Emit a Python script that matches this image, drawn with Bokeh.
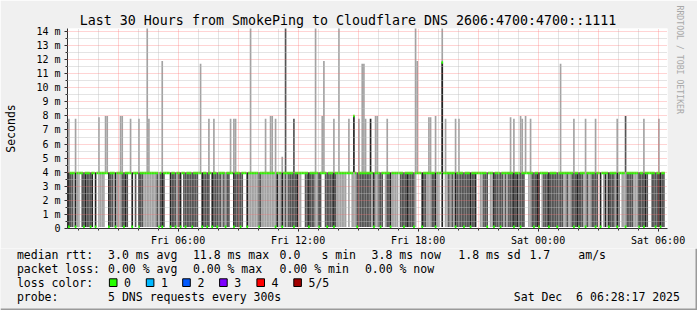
import numpy as np
from bokeh.plotting import figure
from bokeh.layouts import column
from bokeh.models import Range1d, FixedTicker, Grid, Title
from bokeh.core.properties import value
from bokeh.embed import file_html
from bokeh.resources import INLINE

# ---------------- data ----------------
title_text = "Last 30 Hours from SmokePing to Cloudflare DNS 2606:4700:4700::1111"
end_time_label = "Sat 06:28:17"
window_hours = 30

x_tick_labels = ["Fri 06:00", "Fri 12:00", "Fri 18:00", "Sat 00:00", "Sat 06:00"]
y_tick_values = list(range(15))
y_tick_labels = ["0"] + [f"{v} m" for v in range(1, 15)]

# smoke band between ~0.1 ms and ~4 ms, one char per 5-minute step,
# one row per hour, starting Fri 00:30.
# k = black, d = dark grey, l = light grey, w = no band; upper case = median low
band_start = "Fri 00:30"
band_rows = [
    "KddlKllwdDkd",
    "dDkwKwllllww",
    "KddlKllldDkd",
    "wwKwdwKddlll",
    "llllldLdKdww",
    "wKddDldKwdDd",
    "ddDdddwwKddD",
    "dwKddDddldLd",
    "dwwKdddDdwwK",
    "llllllDdllll",
    "llllLkllKldl",
    "dddDdkllwwdd",
    "KdddllKdwwdD",
    "dddKdllllllw",
    "lwlllDdddddd",
    "ddlKlldDdwld",
    "dKllllwddDdk",
    "dddDlwwwKddl",
    "llddKllwkwll",
    "dldlKddddDdd",
    "dKddkwwllddD",
    "wllKdddDdldl",
    "dddKdkdDddww",
    "lldDdkKwlddd",
    "KddddDdddlld",
    "lldDdkKddlLd",
    "llddDdwKwlkl",
    "KdddlKdwllLd",
    "dddlllKddDkd",
    "wwddDdkKdd",
]
band_low_ms = 0.10
band_high_ms = 4.0
median_high_ms = 3.95
median_low_ms = 0.12

spike_times = ["Fri 00:30", "Fri 00:50", "Fri 02:00", "Fri 02:20", "Fri 02:25", "Fri 03:05",
               "Fri 03:10", "Fri 03:35", "Fri 04:00", "Fri 04:25", "Fri 04:30", "Fri 05:10",
               "Fri 07:05", "Fri 07:30", "Fri 07:45", "Fri 08:35", "Fri 08:45", "Fri 08:50",
               "Fri 09:35", "Fri 10:20", "Fri 10:35", "Fri 10:40", "Fri 10:50", "Fri 11:10",
               "Fri 11:20", "Fri 11:45", "Fri 12:50", "Fri 13:10", "Fri 13:15", "Fri 13:45",
               "Fri 14:00", "Fri 14:30", "Fri 14:45", "Fri 15:00", "Fri 15:10", "Fri 15:15",
               "Fri 15:20", "Fri 15:35", "Fri 15:50", "Fri 15:55", "Fri 16:25", "Fri 17:50",
               "Fri 17:55", "Fri 18:30", "Fri 18:35", "Fri 18:50", "Fri 19:10", "Fri 19:10",
               "Fri 19:20", "Fri 19:50", "Fri 20:00", "Fri 22:35", "Fri 22:45", "Fri 23:05",
               "Fri 23:10", "Fri 23:20", "Fri 23:35", "Sat 01:05", "Sat 01:45", "Sat 02:20",
               "Sat 02:50", "Sat 03:55", "Sat 04:20", "Sat 05:15", "Sat 06:00"]
spike_values = [7.8, 7.8, 7.9, 8.0, 8.0, 8.0, 8.0, 7.8, 7.8, 14.5, 7.8, 11.9,
                11.7, 7.8, 7.8, 7.8, 7.8, 7.8, 14.5, 7.8, 8.0, 8.0, 7.8, 5.1,
                14.5, 7.8, 14.5, 8.0, 11.9, 7.8, 14.5, 7.8, 8.0, 7.8, 11.7, 11.7,
                7.8, 7.8, 8.0, 8.0, 7.8, 14.5, 11.9, 7.9, 7.9, 8.0, 14.5, 11.8,
                7.8, 7.8, 7.8, 7.9, 7.8, 8.0, 7.8, 8.0, 7.8, 11.7, 7.8, 7.8,
                7.8, 7.8, 8.0, 7.8, 7.8]
spike_shades = ("llllllllllllllllllllllll" + "dd" + "llllll" + "k" + "llll" + "k"
                + "lllllllll" + "k" + "llllllllllllll" + "d" + "ll")

median_override_times = ["Fri 14:45", "Fri 19:10"]
median_override_values = [8.0, 11.8]

rtt_parts = ["median rtt:", "3.0 ms avg", "11.8 ms max", "0.0", "s min", "3.8 ms now",
             "1.8 ms sd", "1.7", "am/s"]
loss_parts = ["packet loss:", "0.00 % avg", "0.00 % max", "0.00 % min", "0.00 % now"]
color_title = "loss color:"
loss_names = ["0", "1", "2", "3", "4", "5/5"]
loss_colors = ["#26ff00", "#00b8ff", "#0059ff", "#7e00ff", "#ff0000", "#a10000"]
probe_parts = ["probe:", "5 DNS requests every 300s", "Sat Dec \u00a06 06:28:17 2025"]
watermark = "RRDTOOL / TOBI OETIKER"

# ---------------- layout positions (pixels) ----------------
rtt_x = [16.4, 107.6, 192.4, 279.1, 320.9, 371.1, 457.8, 528.9, 577.8]
loss_x = [16.4, 107.6, 192.4, 279.1, 364.4]
box_x = [108.9, 145.8, 182.2, 219.1, 256.4, 293.3]
probe_x = [16.4, 107.6, 513.3]
line_y = [254.3, 268.2, 282.2, 296.0]

def hours(t):
    day, hm = t.split()
    parts = [int(s) for s in hm.split(":")]
    while len(parts) < 3:
        parts.append(0)
    return (0 if day == "Fri" else 24) + parts[0] + parts[1] / 60 + parts[2] / 3600

MONO = "DejaVu Sans Mono"
W = 697
H1, H2 = 248, 62
FL, FR, FT, FB = 67, 667, 28, 228
X1 = hours(end_time_label)
X0 = X1 - window_hours
YMAX = 14.21
BACK = "#f0f0f0"

shade = {"k": "#232323", "d": "#555555", "l": "#a3a3a3"}
step = 5 / 60

# ---------------- main chart ----------------
p = figure(width=W, height=H1, output_backend="svg", toolbar_location=None,
           x_range=Range1d(X0, X1), y_range=Range1d(0, YMAX),
           min_border_left=FL, min_border_right=W - FR,
           min_border_top=FT, min_border_bottom=H1 - FB)
p.frame_align = False
p.background_fill_color = "white"
p.border_fill_color = BACK
p.outline_line_color = None
p.grid.visible = False

codes = "".join(band_rows)
t0 = hours(band_start)
bl, br, bc = [], [], []
ml, mb, mt = [], [], []
ov = {round(hours(t) * 12): v for t, v in zip(median_override_times, median_override_values)}
for i, c in enumerate(codes):
    L = t0 + i * step
    if c.lower() != "w":
        bl.append(L); br.append(L + step); bc.append(shade[c.lower()])
    med = median_low_ms if c.isupper() else median_high_ms
    key = round(L * 12)
    if key in ov:
        med = ov[key]
    ml.append(L); mb.append(med - 0.09); mt.append(med + 0.09)

p.quad(left=bl, right=br, bottom=band_low_ms, top=band_high_ms, fill_color=bc,
       line_color=None)

st = [hours(t) for t in spike_times]
p.quad(left=st, right=[s + step for s in st], bottom=band_high_ms, top=spike_values,
       fill_color=[shade[c] for c in spike_shades], line_color=None)

p.quad(left=ml, right=[m + step for m in ml], bottom=mb, top=mt,
       fill_color=loss_colors[0], line_color=None)

# grids drawn over the smoke, as rrdtool does
hrs = [h for h in range(1, 31) if h % 3]
p.add_layout(Grid(dimension=0, ticker=FixedTicker(ticks=hrs), grid_line_color="#bbbbbb",
                  grid_line_alpha=0.8, grid_line_dash="1 1", level="guide"))
p.add_layout(Grid(dimension=1, ticker=FixedTicker(ticks=[v + 0.5 for v in range(14)]),
                  grid_line_color="#bbbbbb", grid_line_alpha=0.8, grid_line_dash="1 1",
                  level="guide"))
p.add_layout(Grid(dimension=0, ticker=FixedTicker(ticks=list(range(3, 31, 3))),
                  grid_line_color="#ff7070", grid_line_alpha=0.6, grid_line_dash="1 1",
                  level="guide"))
p.add_layout(Grid(dimension=1, ticker=FixedTicker(ticks=list(range(1, 15))),
                  grid_line_color="#ff7070", grid_line_alpha=0.6, grid_line_dash="1 1",
                  level="guide"))

x_ticks = [hours(t) for t in x_tick_labels]
p.xaxis.ticker = FixedTicker(ticks=x_ticks, minor_ticks=list(range(1, 31)))
p.xaxis.major_label_overrides = {int(t): s for t, s in zip(x_ticks, x_tick_labels)}
p.yaxis.ticker = FixedTicker(ticks=y_tick_values, minor_ticks=[v + 0.5 for v in range(14)])
p.yaxis.major_label_overrides = {v: s for v, s in zip(y_tick_values, y_tick_labels)}
for ax in (p.xaxis, p.yaxis):
    ax.axis_line_color = "#303030"
    ax.major_tick_in = 0
    ax.major_tick_out = 3
    ax.minor_tick_in = 0
    ax.minor_tick_out = 2
    ax.major_tick_line_color = "#303030"
    ax.minor_tick_line_color = "#303030"
    ax.major_label_text_font = MONO
    ax.major_label_text_font_size = "10px"
    ax.major_label_text_color = "black"
p.xaxis.major_label_standoff = 3
p.yaxis.major_label_standoff = 4
p.yaxis.axis_label = "Seconds"
p.yaxis.axis_label_text_font = MONO
p.yaxis.axis_label_text_font_size = "11.5px"
p.yaxis.axis_label_text_font_style = "normal"
p.yaxis.axis_label_text_color = "black"
p.yaxis.axis_label_standoff = 15

p.add_layout(Title(text=title_text, align="left", offset=12.3, standoff=2,
                   text_font=MONO, text_font_size="13.3px", text_font_style="normal",
                   text_color="black"), "above")
p.add_layout(Title(text=watermark, align="left", offset=-23, standoff=15,
                   text_font=MONO, text_font_size="8.2px", text_font_style="normal",
                   text_color="#a8a8a8"), "right")

# ---------------- legend block (below) ----------------
q = figure(width=W, height=H2, output_backend="svg", toolbar_location=None,
           x_range=Range1d(0, W), y_range=Range1d(H1 + H2, H1),
           min_border_left=0, min_border_right=0, min_border_top=0, min_border_bottom=0,
           x_axis_location=None, y_axis_location=None)
q.frame_align = False
q.background_fill_color = BACK
q.border_fill_color = BACK
q.outline_line_color = None
q.grid.visible = False

texts = rtt_parts + loss_parts + [color_title] + loss_names + probe_parts
tx = rtt_x + loss_x + [16.4] + [b + 14.7 for b in box_x] + probe_x
ty = ([line_y[0]] * len(rtt_parts) + [line_y[1]] * len(loss_parts)
      + [line_y[2]] * (1 + len(loss_names)) + [line_y[3]] * len(probe_parts))
q.text(x=tx, y=ty, text=texts, text_font=value(MONO), text_font_size="11.5px",
       text_baseline="middle", text_align="left", text_color="black")
q.quad(left=box_x, right=[b + 7.6 for b in box_x], top=[278.3] * 6, bottom=[286.0] * 6,
       fill_color=loss_colors, line_color="black", line_width=1)

# outer frame shading of the rrdtool image
q.segment(x0=[0, W - 1], y0=[H1 + H2 - 1, H1], x1=[W, W - 1], y1=[H1 + H2 - 1, H1 + H2],
          line_color="#9a9a9a", line_width=2)

layout = column(p, q, spacing=0)
open("out.html", "w").write(file_html(layout, INLINE))
